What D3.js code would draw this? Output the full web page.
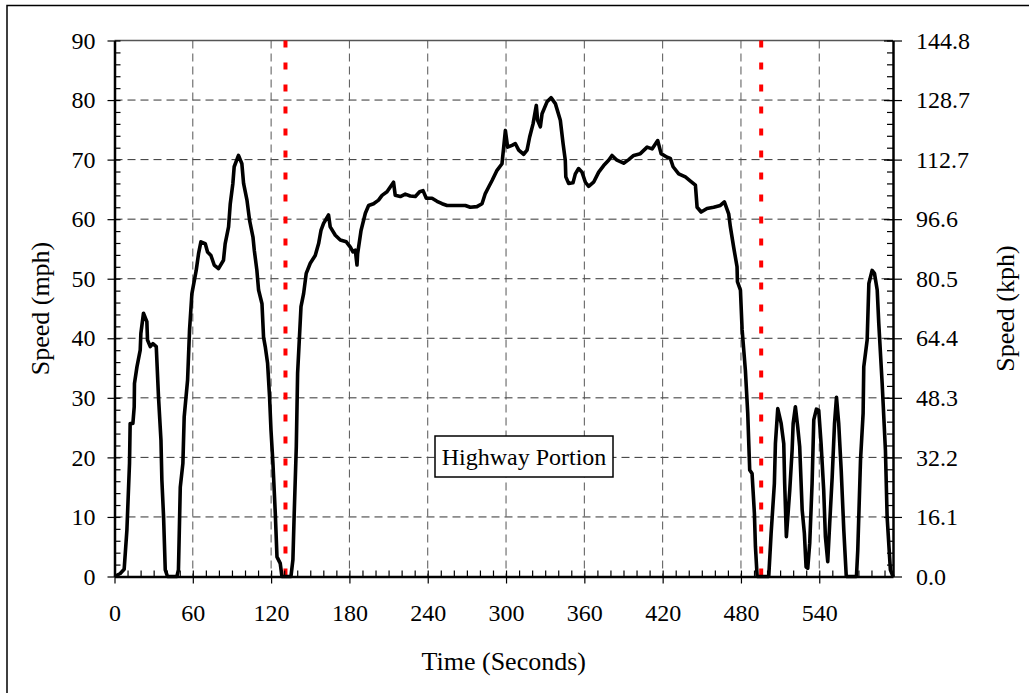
<!DOCTYPE html>
<html>
<head>
<meta charset="utf-8">
<script src="https://cdn.jsdelivr.net/npm/d3@7"></script>
<style>
  body { margin: 0; background: #fff; }
  svg { display: block; font-family: "Liberation Serif", "Times New Roman", serif; }
</style>
</head>
<body>
<div id="chart"></div>
<script>
// speed trace
const timeSec = [0, 4.4, 7.4, 9.5, 11.5, 12, 14.1, 15.1, 15.3, 17.2, 19.7, 20.2, 22.2, 24.8, 25.3, 27.4, 29.4, 32, 33.7, 35.6,
  36.3, 37.6, 38.9, 40.6, 47.8, 49, 50.4, 52.4, 53.4, 56, 57.5, 59.3, 62.6, 64.4, 66.2, 69.5, 71.3, 73.9, 76.4, 79.7,
  83.5, 84.8, 87.4, 88.7, 90.7, 91.7, 95, 97.6, 98.9, 101.5, 103.5, 106.1, 107.1, 109.1, 110.4, 113, 114.2, 115.5, 117.3, 118.8,
  119.9, 121.4, 123.2, 124.5, 127, 128.3, 132.1, 135.2, 136.7, 137.7, 139.3, 140.3, 142.9, 144.9, 146.9, 150, 153.8, 156.4, 158.2, 160.2,
  164, 165.3, 169.2, 173, 177.6, 180.7, 182.7, 184.5, 185.8, 186.3, 188.9, 192.2, 194.7, 198.5, 202.3, 205, 208.8, 211.3, 213.8, 215.1,
  219, 222.8, 226.6, 230.5, 233.8, 236.4, 238.9, 243.3, 247.1, 251, 254.8, 259.9, 265, 268.8, 272.6, 277.7, 281.6, 284.1, 286.7, 289.3,
  293.1, 296.9, 298.2, 299.5, 301.2, 304.6, 307.1, 309.7, 313.5, 316.1, 318.1, 320.7, 323.2, 324.2, 326.3, 327.6, 331.4, 334.5, 337.8, 341.6,
  343.7, 345.4, 345.8, 348, 351.3, 353.1, 355.6, 358.2, 360.8, 363.3, 367.1, 371, 374.8, 378.6, 381.2, 385, 390.1, 394, 397.8, 402.9,
  408.1, 411.9, 416.2, 418.8, 423.4, 425.9, 428, 432.3, 437.4, 441.3, 445.1, 446.4, 449.5, 454, 459.1, 464.2, 467.3, 470.6, 471.9, 474.4,
  477, 477.3, 479.6, 480.9, 483.4, 485.2, 486.7, 488.5, 490.3, 491.1, 492.4, 501.3, 503.1, 505.6, 506.4, 508.2, 510.8, 512.8, 513.5, 514.8,
  517.4, 519.2, 520, 521.7, 523.5, 525, 526.9, 528.6, 529.9, 531.2, 532.7, 534.5, 535.8, 537.8, 539.6, 541.4, 543.4, 544.7, 546.5, 548,
  549.9, 551.7, 553.2, 554.9, 556.8, 558.8, 560.7, 568.5, 569.5, 571.6, 573.6, 574.1, 576.7, 578, 580.5, 582.3, 584.4, 585.6, 588.2, 590.7,
  592, 594.5, 596.5];
const speedMph = [0, 0.5, 1.2, 7.8, 19, 25.7, 25.7, 28.5, 32.4, 35.2, 38, 40.8, 44.2, 42.8, 39.7, 38.6, 39.1, 38.6, 30.2, 22.9,
  16.2, 10, 1.1, 0, 0, 1.1, 15, 19, 26.8, 33, 41.4, 47.5, 51.4, 54.2, 56.2, 55.9, 54.5, 53.9, 52.3, 51.7,
  53.1, 55.9, 58.7, 62.6, 66, 68.8, 70.7, 69.3, 66, 63.2, 59.8, 57, 54.8, 51.4, 48.1, 45.8, 40.2, 38.6, 35.8, 30.2,
  24.6, 19, 10.6, 3.3, 2.2, 0, 0, 0, 2.8, 10.6, 21.8, 34.1, 45.3, 47.5, 50.9, 52.6, 53.9, 55.9, 58.1, 59.3,
  60.7, 58.7, 57.3, 56.5, 56.2, 55.3, 54.5, 54.8, 52.3, 54.2, 58.1, 61, 62.3, 62.6, 63.2, 64, 64.6, 65.4, 66.2, 64,
  63.8, 64.2, 63.9, 63.8, 64.6, 64.8, 63.5, 63.5, 63, 62.6, 62.3, 62.3, 62.3, 62.3, 62, 62.1, 62.6, 64.3, 65.4, 66.5,
  68.2, 69.3, 72.1, 74.9, 72.1, 72.4, 72.7, 71.6, 70.9, 71.6, 73.8, 76, 79.1, 76.6, 75.5, 77.7, 79.7, 80.4, 79.4, 76.6,
  72.7, 69.9, 67.1, 66, 66.1, 67.6, 68.5, 67.9, 66.2, 65.5, 66.2, 67.9, 69, 69.9, 70.7, 69.9, 69.4, 70, 70.7, 71,
  72.1, 71.8, 73.2, 71, 70.4, 70.2, 68.8, 67.6, 67.1, 66.4, 65.7, 62, 61.2, 61.8, 62, 62.3, 62.9, 60.9, 58.7, 55.3,
  52, 49.5, 48.1, 41.4, 34.6, 27.4, 17.9, 17.3, 10.6, 5, 0, 0, 7.2, 15.6, 22.3, 28.2, 25.7, 22.3, 15.6, 6.7,
  14.5, 21.2, 25.7, 28.5, 25.1, 21.8, 11.2, 7.2, 1.6, 1.4, 5.6, 15.6, 26.3, 28.1, 27.9, 22.3, 14.5, 6.7, 2.5, 8.9,
  16.7, 25.7, 30.1, 25.7, 17.9, 7.8, 0, 0, 4.4, 19.5, 27.4, 35.2, 39.7, 49.2, 51.4, 50.9, 48.1, 42.5, 32.4, 21.2,
  10, 1.1, 0];

const xTicks = [0, 60, 120, 180, 240, 300, 360, 420, 480, 540];
const yTicks = [0, 10, 20, 30, 40, 50, 60, 70, 80, 90];
const kphLabels = ["0.0", "16.1", "32.2", "48.3", "64.4", "80.5", "96.6", "112.7", "128.7", "144.8"];
const portionBounds = [131, 495.5];
const noteText = "Highway Portion";

const W = 1029, H = 693;
const margin = { top: 40.5, right: 136, bottom: 116.5, left: 114.5 };
const innerW = W - margin.left - margin.right;
const innerH = H - margin.top - margin.bottom;

const svg = d3.select("#chart").append("svg")
  .attr("width", W)
  .attr("height", H);

// outer frame
svg.append("rect")
  .attr("x", 7).attr("y", 5.5)
  .attr("width", W + 20).attr("height", H + 20)
  .attr("fill", "none")
  .attr("stroke", "#000")
  .attr("stroke-width", 1.5);

const x = d3.scaleLinear().domain([0, 596.5]).range([0, innerW]);
const y = d3.scaleLinear().domain([0, 90]).range([innerH, 0]);

const g = svg.append("g")
  .attr("transform", `translate(${margin.left},${margin.top})`);

// grid
g.append("g")
  .selectAll("line")
  .data(yTicks.filter(d => d > 0 && d < 90))
  .join("line")
  .attr("x1", 0).attr("x2", innerW)
  .attr("y1", d => y(d)).attr("y2", d => y(d))
  .attr("stroke", "#333")
  .attr("stroke-width", 1)
  .attr("stroke-dasharray", "8,5");

g.append("g")
  .selectAll("line")
  .data(xTicks.filter(d => d > 0))
  .join("line")
  .attr("x1", d => x(d)).attr("x2", d => x(d))
  .attr("y1", 0).attr("y2", innerH)
  .attr("stroke", "#555")
  .attr("stroke-width", 1)
  .attr("stroke-dasharray", "8,5");

// top border of plot
g.append("line")
  .attr("x1", 0).attr("x2", innerW)
  .attr("y1", 0).attr("y2", 0)
  .attr("stroke", "#555")
  .attr("stroke-width", 1.5);

// red dotted section markers
g.append("g")
  .selectAll("line")
  .data(portionBounds)
  .join("line")
  .attr("x1", d => x(d)).attr("x2", d => x(d))
  .attr("y1", 0).attr("y2", innerH)
  .attr("stroke", "#ff0000")
  .attr("stroke-width", 4)
  .attr("stroke-dasharray", "7,15");

// speed line
const line = d3.line()
  .x((d, i) => x(timeSec[i]))
  .y(d => y(d));

g.append("path")
  .datum(speedMph)
  .attr("d", line)
  .attr("fill", "none")
  .attr("stroke", "#000")
  .attr("stroke-width", 3.6)
  .attr("stroke-linejoin", "round");

function styleAxis(sel, width) {
  sel.select(".domain").attr("stroke", "#000").attr("stroke-width", width);
  sel.selectAll(".tick line").attr("stroke", "#000").attr("stroke-width", 1.2);
  sel.selectAll("text")
    .attr("fill", "#000")
    .style("font-size", "24px")
    .style("font-family", "'Liberation Serif', 'Times New Roman', serif");
}

// minor ticks
const minorY = d3.range(0, 91, 2);
const minorX = d3.range(0, 597, 10);

g.append("g")
  .call(d3.axisRight(y).tickValues(minorY).tickSize(6).tickFormat(""))
  .call(a => a.select(".domain").remove())
  .selectAll(".tick line").attr("stroke", "#000").attr("stroke-width", 1.2);

g.append("g")
  .attr("transform", `translate(${innerW},0)`)
  .call(d3.axisLeft(y).tickValues(minorY).tickSize(6).tickFormat(""))
  .call(a => a.select(".domain").remove())
  .selectAll(".tick line").attr("stroke", "#000").attr("stroke-width", 1.2);

g.append("g")
  .attr("transform", `translate(0,${innerH})`)
  .call(d3.axisTop(x).tickValues(minorX).tickSize(6).tickFormat(""))
  .call(a => a.select(".domain").remove())
  .selectAll(".tick line").attr("stroke", "#000").attr("stroke-width", 1.2);

// major axes
g.append("g")
  .call(d3.axisLeft(y).tickValues(yTicks).tickSize(7).tickSizeOuter(0).tickPadding(12))
  .call(a => styleAxis(a, 2.5));

g.append("g")
  .attr("transform", `translate(${innerW},0)`)
  .call(d3.axisRight(y).tickValues(yTicks).tickSize(9).tickSizeOuter(0).tickPadding(14)
    .tickFormat((d, i) => kphLabels[i]))
  .call(a => styleAxis(a, 2.5))
  .call(a => a.selectAll(".tick line").attr("x1", -9));

g.append("g")
  .attr("transform", `translate(0,${innerH})`)
  .call(d3.axisBottom(x).tickValues(xTicks).tickSize(7).tickSizeOuter(0).tickPadding(20))
  .call(a => styleAxis(a, 2.5));

// axis titles
svg.append("text")
  .attr("transform", `translate(49,${margin.top + innerH / 2}) rotate(-90)`)
  .attr("text-anchor", "middle")
  .style("font-size", "26px")
  .text("Speed (mph)");

svg.append("text")
  .attr("transform", `translate(1014,${margin.top + innerH / 2}) rotate(-90)`)
  .attr("text-anchor", "middle")
  .style("font-size", "26px")
  .text("Speed (kph)");

svg.append("text")
  .attr("x", margin.left + innerW / 2)
  .attr("y", 670)
  .attr("text-anchor", "middle")
  .style("font-size", "26px")
  .text("Time (Seconds)");

// note box
const note = svg.append("g").attr("transform", "translate(435,436)");
note.append("rect")
  .attr("width", 178).attr("height", 41)
  .attr("fill", "#fff")
  .attr("stroke", "#000")
  .attr("stroke-width", 1.5);
note.append("text")
  .attr("x", 89).attr("y", 29)
  .attr("text-anchor", "middle")
  .style("font-size", "24px")
  .text(noteText);
</script>
</body>
</html>
